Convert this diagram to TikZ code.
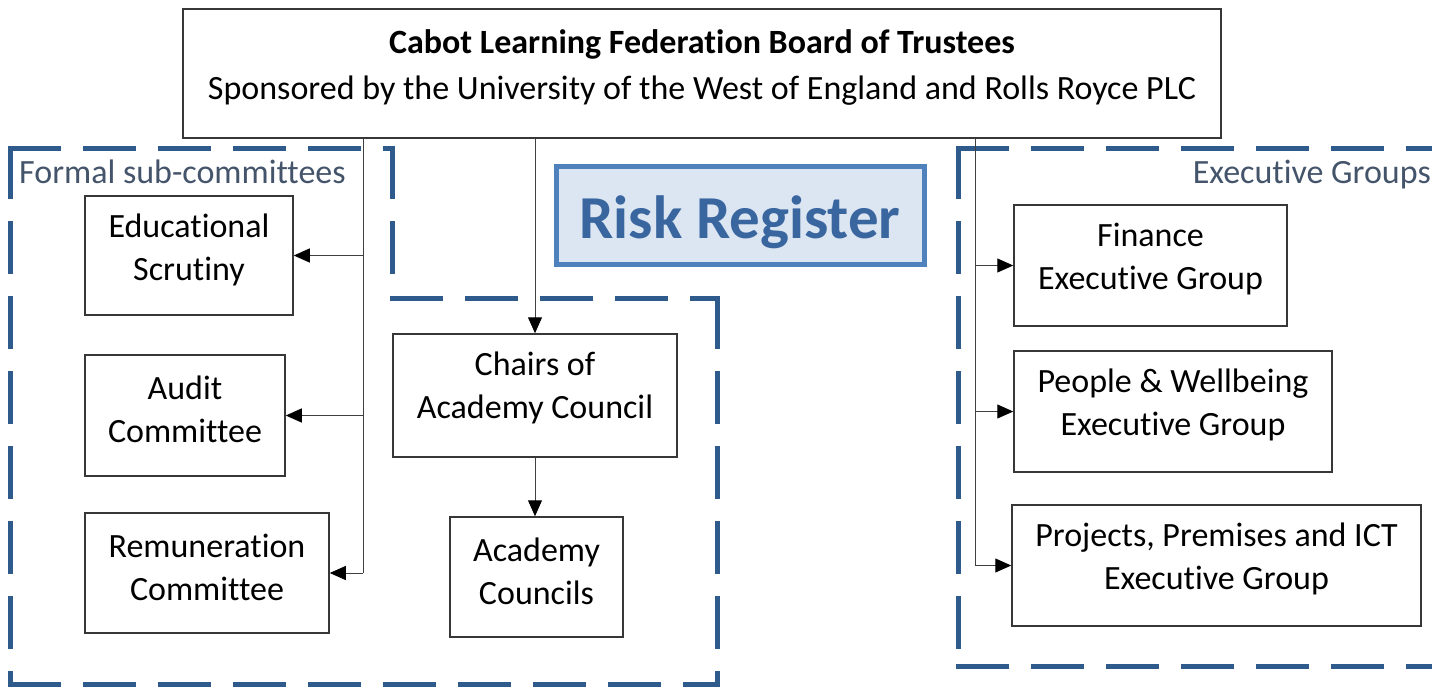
\documentclass[tikz,border=0pt]{standalone}
\usepackage{fontspec}
\setmainfont{Carlito}[Ligatures=NoCommon]
\usetikzlibrary{arrows.meta}

\definecolor{frame}{RGB}{46,90,140}
\definecolor{grouptext}{RGB}{68,84,106}
\definecolor{riskfill}{RGB}{220,230,242}
\definecolor{riskedge}{RGB}{79,129,189}
\definecolor{risktext}{RGB}{58,102,160}
\definecolor{boxedge}{RGB}{55,55,55}

\begin{document}
\begin{tikzpicture}[x=1pt,y=-1pt,
  font=\fontsize{34}{43}\selectfont,
  box/.style={draw=boxedge,line width=1.5pt,fill=white,inner sep=0pt},
  lbl/.style={align=center,inner sep=0pt},
  link/.style={draw=black!75,line width=1pt},
  arr/.style={link,-{Triangle[length=16pt,width=14pt,color=black]}},
  region/.style={draw=frame,line width=5pt,line cap=rect,dash pattern=on 48pt off 27pt},
  grouplbl/.style={text=grouptext,inner sep=0pt,font=\fontsize{34}{40}\selectfont}]

\useasboundingbox (0,0) rectangle (1432,688);
\clip (0,0) rectangle (1432,688);

% dashed group outlines, each side starting at its corner
\draw[region] (10,148) -- (392,148);
\draw[region] (392,148) -- (392,298);
\draw[region] (392,298) -- (717,298);
\draw[region] (717,298) -- (717,684);
\draw[region] (10,684) -- (717,684);
\draw[region] (10,148) -- (10,684);

\draw[region] (958,148) -- (1440,148);
\draw[region] (958,148) -- (958,666);
\draw[region] (958,666) -- (1440,666);

\node[grouplbl,anchor=west] (formal) at (19,172) {Formal sub-committees};
\node[grouplbl,anchor=east] (execgrp) at (1431,175) {Executive Groups};

% board
\node[box,minimum width=1038pt,minimum height=129pt] (board) at (702,73.5) {};
\node[lbl,font=\fontsize{34}{46}\selectfont] (board-t) at ([yshift=6pt]board.center)
  {\textbf{Cabot Learning Federation Board of Trustees}\\Sponsored by the University of the West of England and Rolls Royce PLC};

% risk register
\node[draw=riskedge,fill=riskfill,line width=5pt,minimum width=368pt,minimum height=98pt,inner sep=0pt] (risk) at (740,215) {};
\node[text=risktext,font=\fontsize{61}{61}\bfseries\selectfont,inner sep=0pt] (risk-t) at (740,222) {Risk Register};

% committee boxes
\node[box,minimum width=208pt,minimum height=119pt] (edu) at (189,255.5) {};
\node[lbl] (edu-t) at ([yshift=-55pt]edu.north) {Educational\\Scrutiny};

\node[box,minimum width=200pt,minimum height=121pt] (audit) at (185,415.5) {};
\node[lbl] (audit-t) at ([yshift=-55pt]audit.north) {Audit\\Committee};

\node[box,minimum width=244pt,minimum height=120pt] (rem) at (207,573) {};
\node[lbl] (rem-t) at ([yshift=-55pt]rem.north) {Remuneration\\Committee};

\node[box,minimum width=284pt,minimum height=123pt] (chairs) at (535,395.5) {};
\node[lbl] (chairs-t) at ([yshift=-55pt]chairs.north) {Chairs of\\Academy Council};

\node[box,minimum width=173pt,minimum height=120pt] (councils) at (536.5,577) {};
\node[lbl] (councils-t) at ([yshift=-55pt]councils.north) {Academy\\Councils};

% executive group boxes
\node[box,minimum width=273pt,minimum height=121pt] (fin) at (1150.5,265.5) {};
\node[lbl] (fin-t) at ([yshift=-55pt]fin.north) {Finance\\Executive Group};

\node[box,minimum width=318pt,minimum height=121pt] (people) at (1173,411.5) {};
\node[lbl] (people-t) at ([yshift=-55pt]people.north) {People \& Wellbeing\\Executive Group};

\node[box,minimum width=409pt,minimum height=121pt] (proj) at (1216.5,565.5) {};
\node[lbl] (proj-t) at ([yshift=-55pt]proj.north) {Projects, Premises and ICT\\Executive Group};

% connectors
\coordinate (lspine) at (363,0);
\coordinate (rspine) at (975,0);

\draw[link] (board.south -| lspine) -- (rem.east -| lspine);
\draw[arr] (edu.east -| lspine) -- (edu.east);
\draw[arr] (audit.east -| lspine) -- (audit.east);
\draw[arr] (rem.east -| lspine) -- (rem.east);

\draw[arr] (board.south -| chairs.north) -- (chairs.north);
\draw[arr] (chairs.south) -- (chairs.south |- councils.north);

\draw[link] (board.south -| rspine) -- (proj.west -| rspine);
\draw[arr] (fin.west -| rspine) -- (fin.west);
\draw[arr] (people.west -| rspine) -- (people.west);
\draw[arr] (proj.west -| rspine) -- (proj.west);
\end{tikzpicture}
\end{document}
